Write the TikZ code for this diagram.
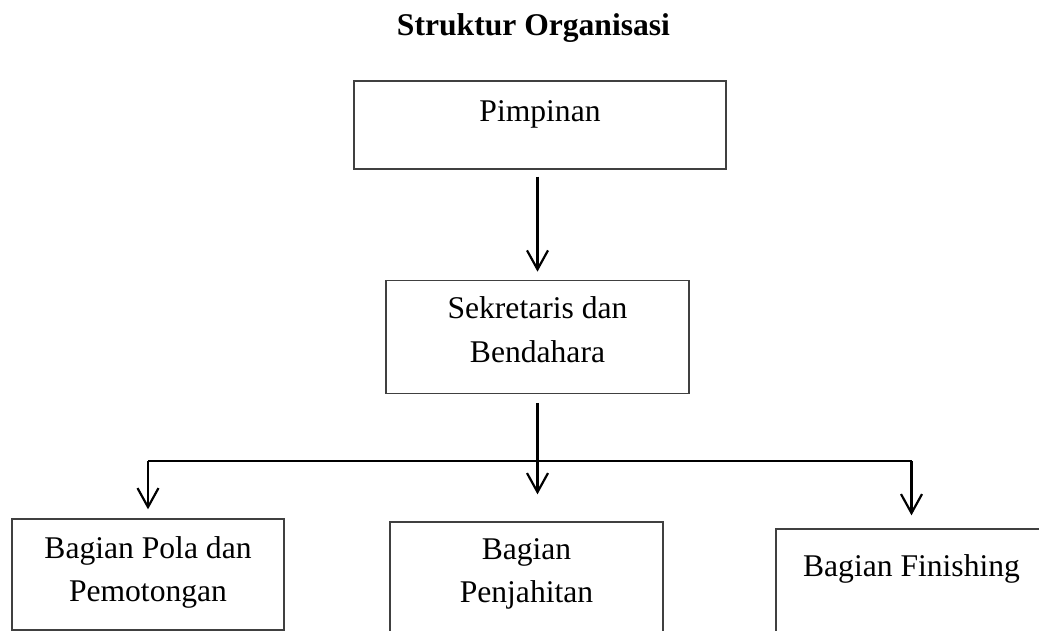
\documentclass[tikz,border=0pt]{standalone}
\usepackage{fontspec}
\setmainfont{Liberation Serif}
\usetikzlibrary{positioning, arrows.meta}

\begin{document}
\begin{tikzpicture}[x=1pt, y=-1pt,
              orgBox/.style={
                draw=black!75, line width=1.3pt, align=center, %text placed high in box
                inner xsep=0pt, inner ysep=0pt, anchor=base
             },
              orgLine/.style={line width=2.2pt},
              orgArrow/.style={orgLine, -{Straight Barb[length=19pt, width=21pt]}} ]
              \fontsize{31.6}{43.4}\selectfont
              \clip (0,0) rectangle (1039,631);
              \node[anchor=base, font=\bfseries](title) at (533.5,35.7){Struktur Organisasi};
              \node[orgBox, minimum width=372pt, text height=40.7pt, text depth=47.3pt](pim) at (540,121.7){Pimpinan};
              \node[orgBox, minimum width=303pt, text height=81.7pt, text depth=31.3pt, below=110pt of pim, xshift=-2.5pt](sek){Sekretaris dan\\Bendahara};
              \node[orgBox, minimum width=272pt, text height=82.7pt, text depth=28.3pt](pola) at (148,601.7){Bagian Pola dan\\Pemotongan};
              \node[orgBox, minimum width=273pt, text height=80.7pt, text depth=40pt](jahit) at (526.5,602.7){Bagian\\Penjahitan};
              \node[orgBox, minimum width=271pt, text height=47.7pt, text depth=80pt](fin) at (911.5,576.7){Bagian Finishing};
              \coordinate (bar) at (0,461);
              \draw[orgArrow, shorten <=7pt, shorten >=8pt] (pim.south -| sek.north) -- (sek.north);
              \draw[orgArrow, shorten <=9pt, shorten >=27pt] (sek.south) -- (sek.south |- jahit.north);
              \draw[orgLine] (bar -| pola.north) -- (bar -| fin.north);
              \draw[orgArrow, shorten >=9pt] (bar -| pola.north) -- (pola.north);
              \draw[orgArrow, shorten >=13pt] (bar -| fin.north) -- (fin.north);
            \end{tikzpicture}
\end{document}
